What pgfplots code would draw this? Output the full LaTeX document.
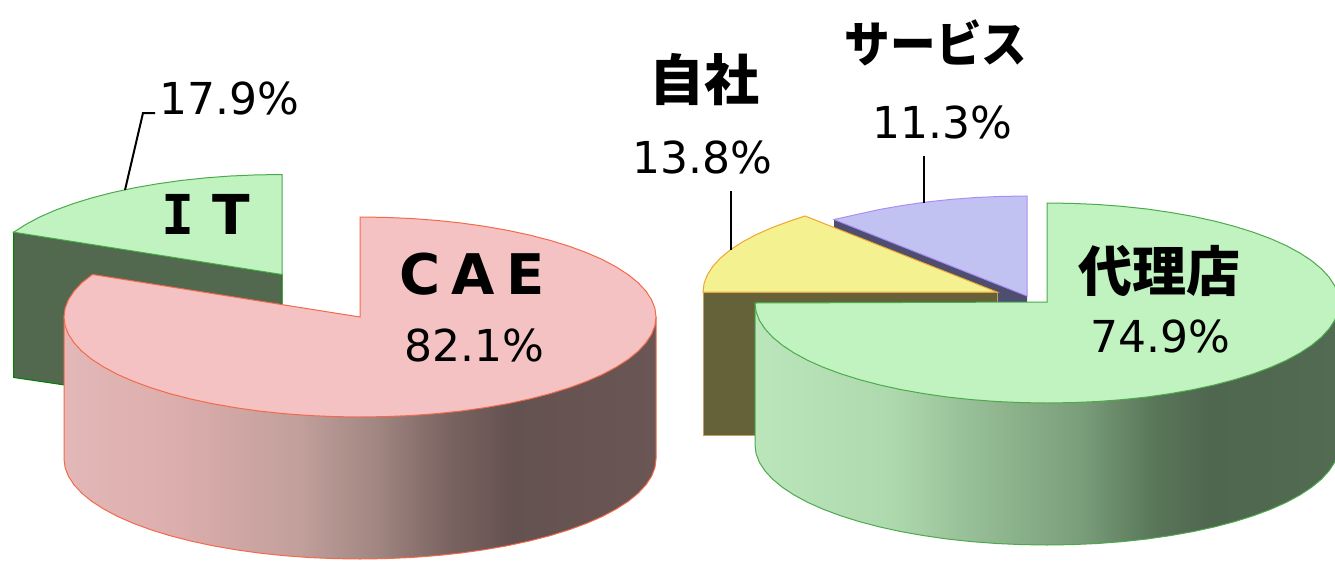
\documentclass[border=0pt]{standalone}
\usepackage{pgfplots}
\pgfplotsset{compat=1.18}
\usepackage{fontspec}
\setmainfont{DejaVu Sans}
\newfontfamily\cjk{Noto Sans CJK JP}
\newfontfamily\cjkn[FakeStretch=0.93]{Noto Sans CJK JP}
\newfontfamily\monob{DejaVu Sans Mono}
\definecolor{pinkF}{HTML}{F4C2C2}
\definecolor{pinkE}{HTML}{F4694A}
\definecolor{greenF}{HTML}{C0F3C0}
\definecolor{greenE}{HTML}{4CA94C}
\definecolor{itwall}{HTML}{526950}
\definecolor{yelF}{HTML}{F4F190}
\definecolor{yelE}{HTML}{F2A52E}
\definecolor{yelwall}{HTML}{65623A}
\definecolor{purF}{HTML}{C2C2F2}
\definecolor{purE}{HTML}{AB8EF5}
\definecolor{purwall}{HTML}{4E4E70}
\pgfdeclarehorizontalshading{pinkwall}{100bp}{
 rgb(0bp)=(0.89,0.72,0.72);
 rgb(25bp)=(0.89,0.72,0.72);
 rgb(34bp)=(0.867,0.682,0.682);
 rgb(44.8bp)=(0.76,0.625,0.61);
 rgb(51.6bp)=(0.627,0.522,0.502);
 rgb(57.3bp)=(0.482,0.392,0.384);
 rgb(62.9bp)=(0.392,0.322,0.314);
 rgb(75bp)=(0.416,0.337,0.333);
 rgb(100bp)=(0.416,0.337,0.333)}
\pgfdeclarehorizontalshading{greenwall}{100bp}{
 rgb(0bp)=(0.733,0.902,0.733);
 rgb(25bp)=(0.733,0.902,0.733);
 rgb(36.6bp)=(0.682,0.851,0.682);
 rgb(44.7bp)=(0.576,0.729,0.576);
 rgb(52.8bp)=(0.478,0.62,0.478);
 rgb(59bp)=(0.353,0.467,0.353);
 rgb(64bp)=(0.31,0.4,0.31);
 rgb(75bp)=(0.322,0.42,0.322);
 rgb(100bp)=(0.322,0.42,0.322)}
\begin{document}
\begin{tikzpicture}
\useasboundingbox (0,0) rectangle (1335pt,560pt);
\begin{axis}[
  at={(0,0)}, anchor=south west,
  width=1335pt, height=560pt, scale only axis,
  xmin=0, xmax=1335, ymin=0, ymax=560, y dir=reverse,
  axis lines=none, ticks=none, no markers, clip=true,
]
% ---- IT wall and face
\addplot[draw=green!50!black, line width=1pt, fill=itwall] coordinates {(13.7,232.2)(13.7,377.5)(282,417)(282,274.5)} -- cycle;
\addplot[draw=greenE, line width=1pt, fill=greenF] coordinates {
(282,174.5)(256.2,174.9)(230.6,176)(205.4,177.9)(180.8,180.5)(156.9,183.9)(134,187.9)(112.2,192.6)(91.7,197.9)(72.7,203.8)(55.3,210.2)(39.5,217.1)(25.7,224.5)(13.7,232.2)(282,274.5)} -- cycle;
% ---- CAE wall
\addplot[draw=pinkE, line width=1pt, shading=pinkwall] coordinates {
(64,317)(64,459)(65.1,467.7)(68.5,476.4)(74.1,484.9)(81.8,493.2)(91.7,501.3)(103.7,509)(117.5,516.4)(133.3,523.3)(150.7,529.7)(169.7,535.6)(190.2,540.9)(212,545.6)(234.9,549.6)(258.8,553)(283.4,555.6)(308.6,557.5)(334.2,558.6)(360,559)
(385.8,558.6)(411.4,557.5)(436.6,555.6)(461.2,553)(485.1,549.6)(508,545.6)(529.8,540.9)(550.3,535.6)(569.3,529.7)(586.7,523.3)(602.5,516.4)(616.3,509)(628.3,501.3)(638.2,493.2)(645.9,484.9)(651.5,476.4)(654.9,467.7)(656,459)(656,317)} -- cycle;
% ---- CAE face
\addplot[draw=pinkE, line width=1pt, fill=pinkF] coordinates {
(360,217)(385.8,217.4)(411.4,218.5)(436.6,220.4)(461.2,223)(485.1,226.4)(508,230.4)(529.8,235.1)(550.3,240.4)(569.3,246.3)(586.7,252.7)(602.5,259.6)(616.3,267)(628.3,274.7)(638.2,282.8)(645.9,291.1)(651.5,299.6)(654.9,308.3)(656,317)
(654.9,325.7)(651.5,334.4)(645.9,342.9)(638.2,351.2)(628.3,359.3)(616.3,367)(602.5,374.4)(586.7,381.3)(569.3,387.7)(550.3,393.6)(529.8,398.9)(508,403.6)(485.1,407.6)(461.2,411)(436.6,413.6)(411.4,415.5)(385.8,416.6)(360,417)
(334.2,416.6)(308.6,415.5)(283.4,413.6)(258.8,411)(234.9,407.6)(212,403.6)(190.2,398.9)(169.7,393.6)(150.7,387.7)(133.3,381.3)(117.5,374.4)(103.7,367)(91.7,359.3)(81.8,351.2)(74.1,342.9)(68.5,334.4)(65.1,325.7)(64,317)
(65.1,308.3)(68.5,299.6)(74.1,291.1)(81.8,282.8)(92.5,274.5)(360,317)} -- cycle;
% ---- service wall and face
\addplot[draw=none, fill=purwall] coordinates {(834,219)(834,400)(1027,400)(1027,296)} -- cycle;
\addplot[draw=purE, line width=1pt, fill=purF] coordinates {
(1027,196)(1001.4,196.4)(975.9,197.5)(950.9,199.4)(926.4,202)(902.8,205.4)(880,209.4)(858.4,214.1)(834,219.5)(1027,296)} -- cycle;
% ---- own company wall and face
\addplot[draw=yelE!70!black!70!white, line width=1pt, fill=yelwall] coordinates {(703,292)(703,435)(997,435)(997,292)} -- cycle;
\addplot[draw=yelE, line width=1pt, fill=yelF] coordinates {
(703,292)(704.1,283.3)(707.5,274.6)(713,266.1)(720.7,257.8)(730.5,249.7)(742.4,242)(756.2,234.6)(771.8,227.7)(789.1,221.3)(805,216)(997,292)} -- cycle;
% ---- agency wall
\addplot[draw=greenE, line width=1pt, shading=greenwall] coordinates {
(755,303)(755,445)(756.1,453.7)(759.4,462.4)(765,470.9)(772.6,479.2)(782.4,487.3)(794.1,495)(807.8,502.4)(823.3,509.3)(840.5,515.7)(859.3,521.6)(879.5,526.9)(901,531.6)(923.6,535.6)(947.1,539)(971.4,541.6)(996.3,543.5)(1021.6,544.6)(1047,545)
(1072.4,544.6)(1097.7,543.5)(1122.6,541.6)(1146.9,539)(1170.4,535.6)(1193,531.6)(1214.5,526.9)(1234.7,521.6)(1253.5,515.7)(1270.7,509.3)(1286.2,502.4)(1299.9,495)(1311.6,487.3)(1321.4,479.2)(1329,470.9)(1334.6,462.4)(1337.9,453.7)(1339,445)(1339,303)} -- cycle;
% ---- agency face
\addplot[draw=greenE, line width=1pt, fill=greenF] coordinates {
(1047,203)(1072.4,203.4)(1097.7,204.5)(1122.6,206.4)(1146.9,209)(1170.4,212.4)(1193,216.4)(1214.5,221.1)(1234.7,226.4)(1253.5,232.3)(1270.7,238.7)(1286.2,245.6)(1299.9,253)(1311.6,260.7)(1321.4,268.8)(1329,277.1)(1334.6,285.6)(1337.9,294.3)(1339,303)
(1337.9,311.7)(1334.6,320.4)(1329,328.9)(1321.4,337.2)(1311.6,345.3)(1299.9,353)(1286.2,360.4)(1270.7,367.3)(1253.5,373.7)(1234.7,379.6)(1214.5,384.9)(1193,389.6)(1170.4,393.6)(1146.9,397)(1122.6,399.6)(1097.7,401.5)(1072.4,402.6)(1047,403)
(1021.6,402.6)(996.3,401.5)(971.4,399.6)(947.1,397)(923.6,393.6)(901,389.6)(879.5,384.9)(859.3,379.6)(840.5,373.7)(823.3,367.3)(807.8,360.4)(794.1,353)(782.4,345.3)(772.6,337.2)(765,328.9)(759.4,320.4)(756.1,311.7)(755,303)(1047,302)} -- cycle;
% ---- leader lines
\addplot[black, line width=2pt] coordinates {(125,190)(143,113)(155,113)};
\addplot[black, line width=2pt] coordinates {(731,191)(731,250)};
\addplot[black, line width=2pt] coordinates {(924,156)(924,203)};
% ---- labels
\node[font=\fontsize{44}{50}\selectfont] at (axis cs:229,98) {17.9\%};
\node[font=\fontsize{44}{50}\selectfont] at (axis cs:474,345) {82.1\%};
\node[font=\fontsize{44}{50}\selectfont] at (axis cs:1160,336) {74.9\%};
\node[font=\fontsize{44}{50}\selectfont] at (axis cs:702,157) {13.8\%};
\node[font=\fontsize{44}{50}\selectfont] at (axis cs:942,122) {11.3\%};
\node[font=\fontsize{55}{60}\selectfont\bfseries] at (axis cs:205.5,214) {{\monob I}\hspace{18pt}T};
\node[font=\fontsize{56}{60}\selectfont\bfseries] at (axis cs:472,274) {C\hspace{11pt}A\hspace{11pt}E};
\node[font=\fontsize{55}{60}\selectfont\bfseries\cjk] at (axis cs:704,80) {自社};
\node[font=\fontsize{49}{60}\selectfont\bfseries\cjkn] at (axis cs:936,43) {サービス};
\node[font=\fontsize{54}{60}\selectfont\bfseries\cjk] at (axis cs:1159,271) {代理店};
\end{axis}
\end{tikzpicture}
\end{document}
